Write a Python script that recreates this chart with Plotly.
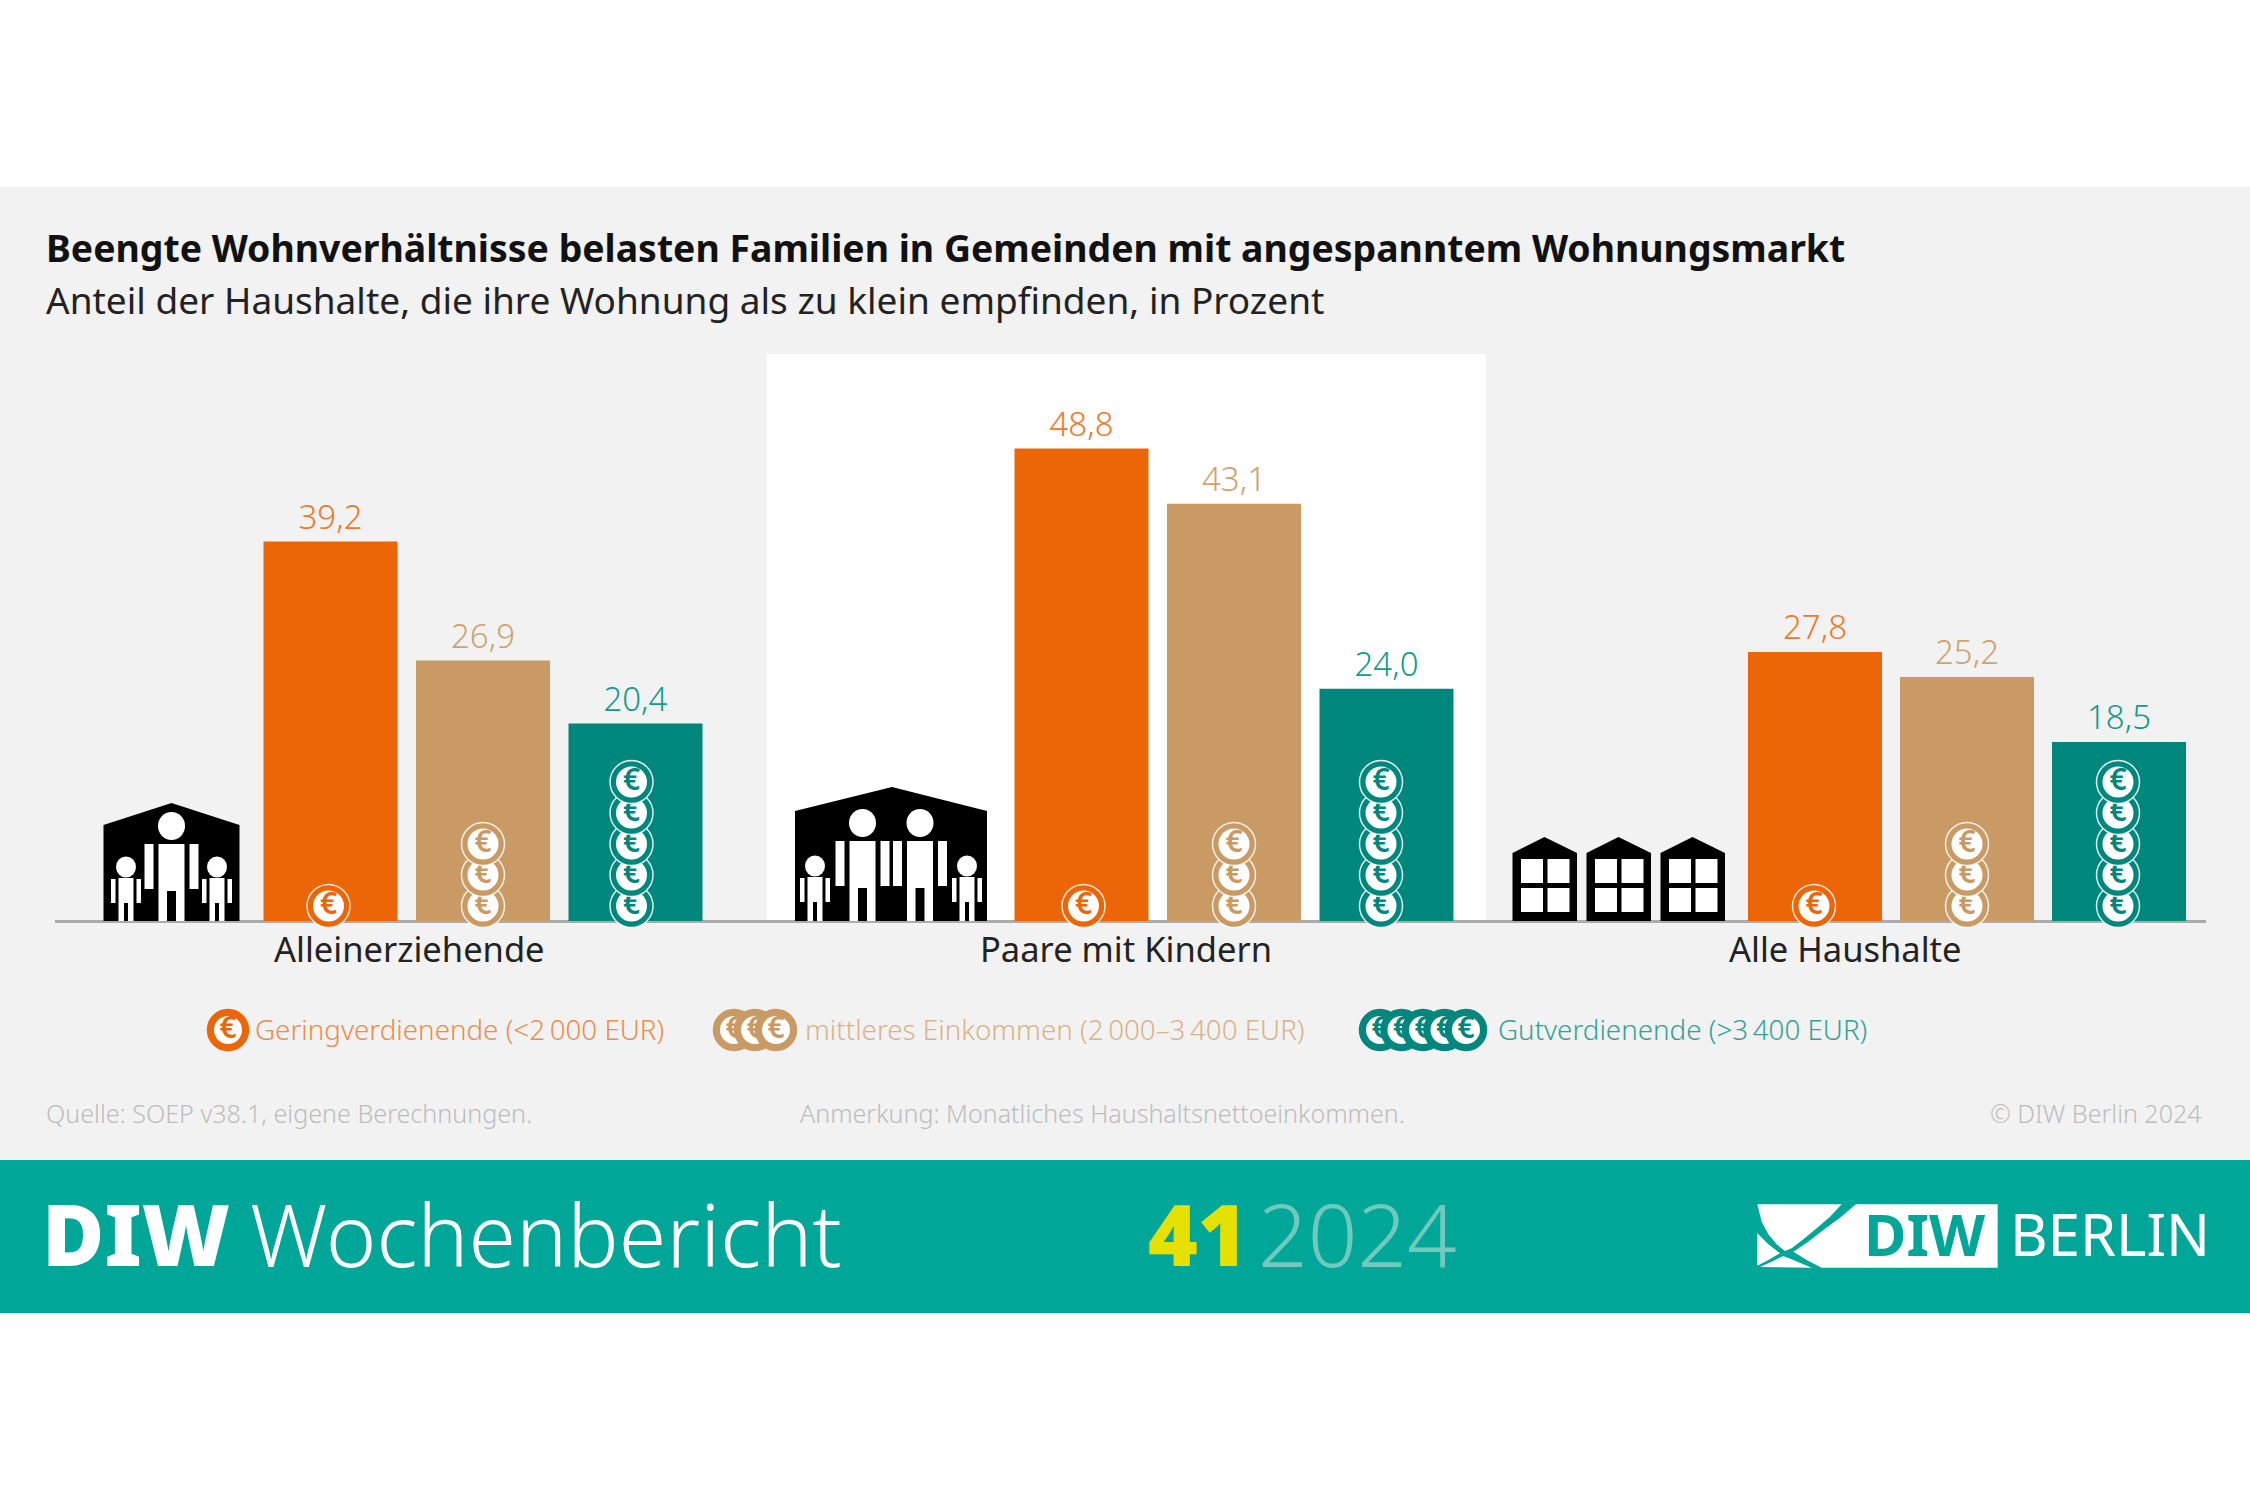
import plotly.graph_objects as go

groups = ["Alleinerziehende", "Paare mit Kindern", "Alle Haushalte"]
income_levels = ["Geringverdienende", "mittleres Einkommen", "Gutverdienende"]
low_income = [39.2, 48.8, 27.8]
mid_income = [26.9, 43.1, 25.2]
high_income = [20.4, 24.0, 18.5]
series_values = [low_income, mid_income, high_income]
coin_counts = [1, 3, 5]
legend_labels = ["Geringverdienende (<2\u202f000 EUR)", "mittleres Einkommen (2\u202f000\u20133\u202f400 EUR)", "Gutverdienende (>3\u202f400 EUR)"]

W, H = 2250, 1500
BASE = 921
PX_PER_UNIT = 9.68
FONT = "Noto Sans"

bar_colors = ["#EC6608", "#C99A63", "#00877D"]
label_colors = ["#EC7A2C", "#CFA271", "#149A8F"]
legend_text_colors = ["#EE8C4A", "#DBB288", "#2FA398"]
group_starts = [330.5, 1081.5, 1815]
bar_pitch = [152.5, 152.5, 152]
coin_dx = [[-2, 2, -1], [0, 0, 0], [-4, -5.5, -1]]
coin_pitch = 31


def py(y):
    # page pixel to paper coordinate
    return 1 - y / H


def px(x):
    return x / W


def val(y):
    # page pixel to value on the y axis
    return (BASE - y) / PX_PER_UNIT


shapes = []


def rect(x0, y0, x1, y1, color):
    shapes.append(dict(type="rect", xref="paper", yref="paper", x0=px(x0), x1=px(x1), y0=py(y1), y1=py(y0),
                       fillcolor=color, line_width=0, layer="below"))


def oval(cx, cy, rx, ry, color):
    shapes.append(dict(type="circle", xref="paper", yref="paper", x0=px(cx - rx), x1=px(cx + rx), y0=py(cy + ry), y1=py(cy - ry),
                       fillcolor=color, line_width=0, layer="below"))


def poly(points, color):
    path = "M " + " L ".join(f"{px(a):.5f},{py(b):.5f}" for a, b in points) + " Z"
    shapes.append(dict(type="path", xref="paper", yref="paper", path=path, fillcolor=color, line_width=0, layer="below"))


def adult(cx, head_y):
    oval(cx, head_y, 13.5, 14, "white")
    rect(cx - 13, head_y + 18, cx + 13, BASE, "white")
    rect(cx - 4.5, head_y + 65, cx + 4.5, BASE, "black")
    rect(cx - 27, head_y + 18, cx - 18, head_y + 63, "white")
    rect(cx + 18, head_y + 18, cx + 27, head_y + 63, "white")


def child(cx, head_y):
    oval(cx, head_y, 10, 10.5, "white")
    rect(cx - 7.5, head_y + 11, cx + 7.5, BASE, "white")
    rect(cx - 2, head_y + 36, cx + 2, BASE, "black")
    rect(cx - 15, head_y + 12, cx - 10.5, head_y + 36, "white")
    rect(cx + 10.5, head_y + 12, cx + 15, head_y + 36, "white")


def logo_piece(points):
    # outline
    poly([(1750 + a / 3, 1195 + b / 3) for a, b in points], "white")


# page background and highlight
rect(0, 187, W, 1160, "#F2F2F2")
rect(767, 354, 1486, 921, "white")
rect(0, 1160, W, 1313, "#00A697")
rect(55, 920, 2206, 923, "#ABABAB")

# single parent house
poly([(103.5, BASE), (103.5, 825), (171.5, 803), (239.5, 825), (239.5, BASE)], "black")
adult(171.5, 826)
child(126, 867)
child(217, 867)

# couple house
poly([(795, BASE), (795, 811), (892, 787), (987, 811), (987, BASE)], "black")
adult(862.5, 823)
adult(920, 823)
child(815, 866)
child(967, 866)

# row of houses for all households
for left in [1512.5, 1586.5, 1660.5]:
    poly([(left, BASE), (left, 853), (left + 32, 837), (left + 64.5, 853), (left + 64.5, BASE)], "black")
    for top in [859, 888]:
        rect(left + 8.5, top, left + 30.5, top + 24, "white")
        rect(left + 35, top, left + 57, top + 24, "white")

# logo box
logo_piece([(22, 28), (275, 28), (240, 65), (200, 100), (160, 133), (125, 160), (105, 168), (80, 148), (55, 118), (35, 80)])
logo_piece([(22, 115), (55, 148), (90, 175), (55, 195), (22, 212)])
logo_piece([(30, 216), (65, 200), (100, 183), (130, 195), (185, 218)])
logo_piece([(318, 28), (743, 28), (743, 218), (215, 218), (170, 195), (130, 170), (175, 140), (220, 105), (270, 68)])

fig = go.Figure()

for s, vals in enumerate(series_values):
    xs = [group_starts[g] + s * bar_pitch[g] for g in range(3)]
    fig.add_trace(go.Bar(
        x=xs, y=vals, width=134, marker_color=bar_colors[s], marker_line_width=0,
        text=[f"{v:.1f}".replace(".", ",") for v in vals], textposition="outside", cliponaxis=False,
        textfont=dict(family=FONT, size=33, color=label_colors[s], weight=300),
        name=income_levels[s], showlegend=False, hoverinfo="skip",
    ))


def coin(x, y, fill, outer=43, inner=31, ring="rgba(255,255,255,0.85)"):
    # one trace per coin, so that the upper coin lies over the lower one
    fig.add_trace(go.Scatter(x=[x], y=[y], mode="markers", showlegend=False, hoverinfo="skip", cliponaxis=False,
                             marker=dict(size=outer, color=fill, line=dict(color=ring, width=1.5))))
    fig.add_trace(go.Scatter(x=[x], y=[y], mode="markers+text", showlegend=False, hoverinfo="skip", cliponaxis=False,
                             marker=dict(size=inner, color="white", line_width=0),
                             text=["€"], textposition="middle center",
                             textfont=dict(family=FONT, size=30, color=fill, weight=600)))


for s, n in enumerate(coin_counts):
    for g in range(3):
        x = group_starts[g] + s * bar_pitch[g] + coin_dx[s][g]
        for k in range(n):
            coin(x, val(906 - k * coin_pitch), bar_colors[s])

legend_coin_x = [[228], [734, 755, 776], [1380, 1401.5, 1423, 1444.5, 1466]]
for s, centres in enumerate(legend_coin_x):
    for x in centres:
        coin(x, val(1030), bar_colors[s], outer=41, inner=28, ring=bar_colors[s])


def note(x, y, text, size, color, anchor="left", weight=400, family=FONT):
    fig.add_annotation(xref="paper", yref="paper", x=px(x), y=py(y), text=text, showarrow=False,
                       xanchor=anchor, yanchor="middle", align=anchor, borderpad=0,
                       font=dict(family=family, size=size, color=color, weight=weight))


note(45, 247.5, "Beengte Wohnverhältnisse belasten Familien in Gemeinden mit angespanntem Wohnungsmarkt", 37.4, "#111111", weight=700)
note(45, 300, "Anteil der Haushalte, die ihre Wohnung als zu klein empfinden, in Prozent", 37, "#222222")

for name, cx in zip(groups, [409, 1126, 1845]):
    note(cx, 948.5, name, 34.5, "#222222", anchor="center")

for text, x, color in zip(legend_labels, [254, 804, 1497], legend_text_colors):
    note(x, 1029, text, 27.75, color, weight=300)

note(45, 1113, "Quelle: SOEP v38.1, eigene Berechnungen.", 25.1, "#BDBDBD", weight=300)
note(799, 1113, "Anmerkung: Monatliches Haushaltsnettoeinkommen.", 25.05, "#BDBDBD", weight=300)
note(2202, 1113, "© DIW Berlin 2024", 25, "#BDBDBD", anchor="right", weight=300)

note(41, 1233, "DIW", 85, "white", weight=900)
note(249, 1233, "Wochenbericht", 86, "white", weight=300)
note(1147, 1233, "41", 85, "#E6E000", weight=900)
note(1257, 1233, "2024", 87, "#6FCABD", weight=300)
note(1863, 1233, "DIW", 58, "#00A697", weight=700)
note(2009, 1233, "BERLIN", 58, "white", weight=400)

fig.update_layout(
    width=W, height=H, margin=dict(l=0, r=0, t=0, b=0, pad=0), autosize=False,
    paper_bgcolor="white", plot_bgcolor="rgba(0,0,0,0)", barmode="overlay", shapes=shapes,
    xaxis=dict(range=[0, W], visible=False, fixedrange=True),
    yaxis=dict(range=[val(H), val(0)], visible=False, fixedrange=True),
)

fig.write_html("out.html", config={"displayModeBar": False}, post_script="document.body.style.margin='0';")
